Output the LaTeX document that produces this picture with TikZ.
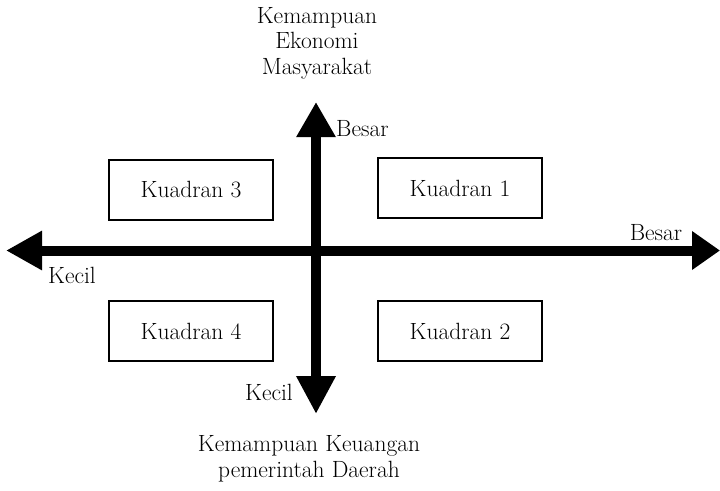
\documentclass[tikz,border=0pt]{standalone}
\usetikzlibrary{arrows.meta}
\begin{document}
\begin{tikzpicture}[x=1pt,y=-1pt,
  lbl/.style={font=\fontsize{23.5}{25.5}\selectfont, inner sep=0pt},
  quad/.style={draw, line width=1.6pt, minimum width=164pt, minimum height=60pt,
               font=\fontsize{23.5}{25.5}\selectfont},
  axis/.style={line width=10pt}]
  \useasboundingbox (0,0) rectangle (720,490);

  % axes
  \coordinate (xl) at (6,250.5);
  \coordinate (xr) at (720,250.5);
  \coordinate (yt) at (316,102);
  \coordinate (yb) at (316,414);
  \draw[axis, {Triangle[length=36pt,width=37pt]}-{Triangle[length=28pt,width=37pt]}] (xl) -- (xr);
  \draw[axis, {Triangle[length=35pt,width=37pt]}-{Triangle[length=38pt,width=37pt]}] (yt) -- (yb);

  % quadrant boxes
  \node[quad] (k3) at (191,190) {Kuadran 3};
  \node[quad] (k1) at (460,188) {Kuadran 1};
  \node[quad] (k4) at (191,331) {Kuadran 4};
  \node[quad] (k2) at (460,331) {Kuadran 2};

  % axis labels
  \node[lbl, anchor=west] (yhi) at (336,129) {Besar};
  \node[lbl] (xhi) at (656,233) {Besar};
  \node[lbl] (xlo) at (72,275) {Kecil};
  \node[lbl] (ylo) at (269,392) {Kecil};

  % axis titles
  \node[lbl, align=center] (ytitle) at (317,43) {Kemampuan\\Ekonomi\\Masyarakat};
  \node[lbl, align=center] (xtitle) at (309,459) {Kemampuan Keuangan\\pemerintah Daerah};
\end{tikzpicture}
\end{document}
